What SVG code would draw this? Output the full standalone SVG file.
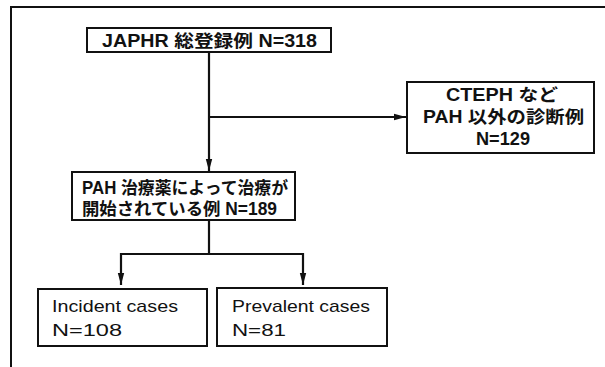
<svg xmlns="http://www.w3.org/2000/svg" width="605" height="367" viewBox="0 0 605 367">
<defs>
<marker id="ah" markerWidth="12" markerHeight="8" refX="12" refY="4" orient="auto" markerUnits="userSpaceOnUse">
<path d="M0,0.8 L12,4 L0,7.2 Z" fill="#111"/>
</marker>
<style>
.box{fill:#fff;stroke:#111;stroke-width:2}
.ln{fill:none;stroke:#111;stroke-width:2.2}
.t{font-family:"Liberation Sans","Noto Sans CJK JP",sans-serif;font-size:17px;fill:#111}
.b{font-weight:bold;font-size:17.5px}
</style>
</defs>
<rect width="605" height="367" fill="#fff"/>
<path d="M11,367 V7 H605" fill="none" stroke="#111" stroke-width="2"/>
<g id="connectors">
<path class="ln" d="M209,52 V171" marker-end="url(#ah)"/>
<path class="ln" d="M209,117 H406" marker-end="url(#ah)"/>
<path class="ln" d="M209,220 V254 H121 V285" marker-end="url(#ah)"/>
<path class="ln" d="M209,254 H303 V285" marker-end="url(#ah)"/>
</g>
<g id="total">
<rect class="box" x="87" y="28" width="244" height="24"/>
<text class="t b" x="102" y="46.5" textLength="215" lengthAdjust="spacingAndGlyphs">JAPHR 総登録例 N=318</text>
</g>
<g id="other">
<rect class="box" x="407" y="82" width="187" height="71"/>
<text class="t b" x="446" y="101" textLength="112" lengthAdjust="spacingAndGlyphs">CTEPH など</text>
<text class="t b" x="423" y="123" textLength="161" lengthAdjust="spacingAndGlyphs">PAH 以外の診断例</text>
<text class="t b" x="476" y="145" textLength="54" lengthAdjust="spacingAndGlyphs">N=129</text>
</g>
<g id="treated">
<rect class="box" x="72" y="172" width="223" height="48"/>
<text class="t b" x="82" y="194" textLength="206" lengthAdjust="spacingAndGlyphs">PAH 治療薬によって治療が</text>
<text class="t b" x="82" y="215" textLength="195" lengthAdjust="spacingAndGlyphs">開始されている例 N=189</text>
</g>
<g id="incident">
<rect class="box" x="38" y="289" width="169" height="57"/>
<text class="t" x="52" y="312" textLength="126" lengthAdjust="spacingAndGlyphs">Incident cases</text>
<text class="t" x="52" y="336" textLength="70" lengthAdjust="spacingAndGlyphs">N=108</text>
</g>
<g id="prevalent">
<rect class="box" x="217" y="288" width="170" height="58"/>
<text class="t" x="232" y="312" textLength="138" lengthAdjust="spacingAndGlyphs">Prevalent cases</text>
<text class="t" x="232" y="336" textLength="54" lengthAdjust="spacingAndGlyphs">N=81</text>
</g>
</svg>
